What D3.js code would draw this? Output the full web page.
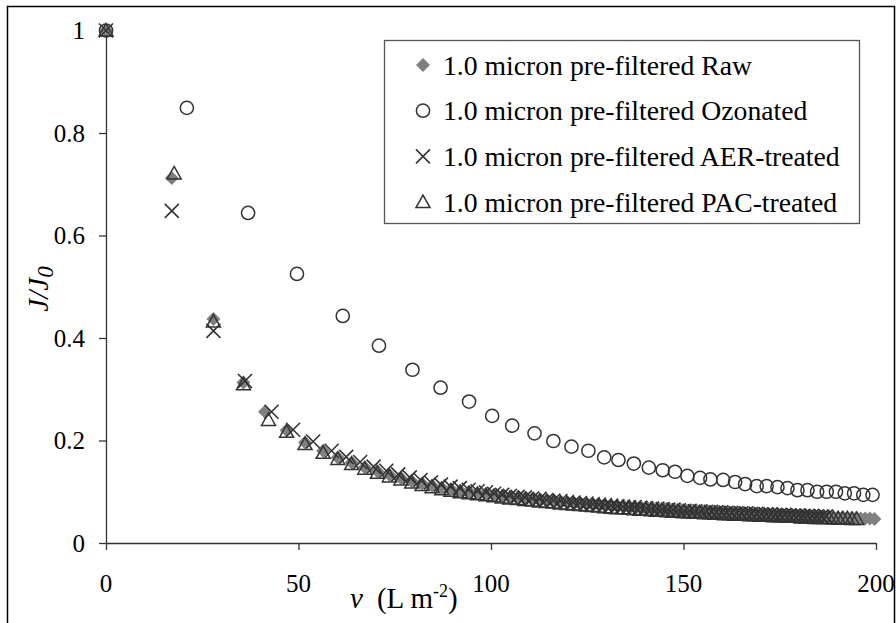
<!DOCTYPE html>
<html>
<head>
<meta charset="utf-8">
<script src="https://cdn.jsdelivr.net/npm/d3@7"></script>
<style>
  body { margin: 0; background: #fff; }
  svg text { font-family: "Liberation Serif", "Times New Roman", serif; fill: #000; }
</style>
</head>
<body>
<svg id="chart" width="896" height="623"></svg>
<script>
// series names
const seriesNames = [
  "1.0 micron pre-filtered Raw",
  "1.0 micron pre-filtered Ozonated",
  "1.0 micron pre-filtered AER-treated",
  "1.0 micron pre-filtered PAC-treated"
]

const xTicks = [0, 50, 100, 150, 200]
const yTicks = [0, 0.2, 0.4, 0.6, 0.8, 1]
const yTickLabels = ["0", "0.2", "0.4", "0.6", "0.8", "1"]

// Raw (diamonds)
const rawV = [0, 17.1, 27.9, 35.7, 41.3, 46.9, 51.7, 56.4, 60.2, 63.8, 67.2, 70.5, 73.6, 76.6, 79.4, 82.1, 84.7, 87.2,
  89.6, 92.0, 94.3, 96.5, 98.7, 100.8, 102.9, 104.9, 106.9, 108.8, 110.7, 112.6, 114.4, 116.2, 118.0, 119.8, 121.5,
  123.2, 124.9, 126.6, 128.2, 129.8, 131.4, 133.0, 134.6, 136.2, 137.7, 139.2, 140.7, 142.2, 143.7, 145.2, 146.6,
  148.0, 149.4, 150.8, 152.2, 153.6, 155.0, 156.4, 157.8, 159.1, 160.4, 161.7, 163.0, 164.3, 165.6, 166.9, 168.2,
  169.5, 170.8, 172.0, 173.2, 174.4, 175.6, 176.8, 178.0, 179.2, 180.4, 181.6, 182.8, 184.0, 185.2, 186.4, 187.6,
  188.8, 190.0, 191.2, 192.4, 193.6, 194.8, 196.0, 197.2, 198.4, 199.6]
const rawJ = [1, 0.712, 0.437, 0.313, 0.256, 0.220, 0.196, 0.180, 0.167, 0.157, 0.148, 0.140, 0.133, 0.127, 0.121, 0.116, 0.112, 0.108,
  0.105, 0.102, 0.100, 0.098, 0.096, 0.094, 0.092, 0.090, 0.089, 0.087, 0.086, 0.084, 0.083, 0.082, 0.080, 0.079, 0.078,
  0.077, 0.076, 0.075, 0.074, 0.073, 0.072, 0.071, 0.071, 0.070, 0.069, 0.068, 0.068, 0.067, 0.066, 0.066, 0.065,
  0.064, 0.064, 0.063, 0.063, 0.062, 0.062, 0.061, 0.061, 0.060, 0.060, 0.059, 0.059, 0.058, 0.058, 0.057, 0.057,
  0.056, 0.056, 0.056, 0.055, 0.055, 0.054, 0.054, 0.054, 0.053, 0.053, 0.052, 0.052, 0.052, 0.051, 0.051, 0.051,
  0.050, 0.050, 0.050, 0.049, 0.049, 0.049, 0.048, 0.048, 0.048, 0.047]

// Ozonated (circles)
const ozoV = [0, 21.0, 36.9, 49.6, 61.5, 70.9, 79.6, 86.9, 94.3, 100.3, 105.5, 111.3, 116.2, 120.9, 125.3, 129.4, 133.1,
  137.1, 141.0, 144.6, 147.8, 151.0, 154.3, 157.0, 160.3, 163.4, 166.0, 169.0, 171.6, 174.4, 177.0, 179.6, 182.2,
  184.7, 187.2, 189.6, 191.9, 194.3, 196.7, 199.1]
const ozoJ = [1, 0.849, 0.644, 0.525, 0.443, 0.385, 0.338, 0.303, 0.276, 0.248, 0.229, 0.214, 0.199, 0.188, 0.180, 0.167, 0.162,
  0.155, 0.147, 0.142, 0.139, 0.131, 0.127, 0.124, 0.123, 0.119, 0.115, 0.111, 0.111, 0.109, 0.107, 0.103, 0.103,
  0.100, 0.100, 0.100, 0.097, 0.097, 0.094, 0.094]

// AER-treated (crosses)
const aerV = [0, 17.1, 27.9, 36.1, 43.0, 48.6, 53.8, 58.6, 62.4, 66.0, 69.5, 72.8, 75.9, 78.9, 81.7, 84.4, 87.0, 89.5,
  91.9, 94.2, 96.5, 98.7, 100.8, 102.9, 104.9, 106.9, 108.8, 110.7, 112.6, 114.4, 116.2, 118.0, 119.7, 121.4, 123.1,
  124.8, 126.4, 128.0, 129.6, 131.2, 132.8, 134.3, 135.8, 137.3, 138.8, 140.3, 141.8, 143.2, 144.6, 146.0, 147.4,
  148.8, 150.2, 151.6, 153.0, 154.4, 155.8, 157.2, 158.5, 159.8, 161.1, 162.4, 163.7, 165.0, 166.3, 167.6, 168.9,
  170.2, 171.4, 172.6, 173.8, 175.0, 176.2, 177.4, 178.6, 179.8, 181.0, 182.2, 183.4, 184.6, 185.8, 187.0]
const aerJ = [1, 0.648, 0.414, 0.316, 0.256, 0.221, 0.198, 0.180, 0.168, 0.158, 0.149, 0.141, 0.134, 0.128, 0.123, 0.118, 0.114, 0.110,
  0.107, 0.104, 0.101, 0.099, 0.096, 0.094, 0.092, 0.090, 0.089, 0.087, 0.086, 0.084, 0.083, 0.082, 0.080, 0.079, 0.078,
  0.077, 0.076, 0.075, 0.074, 0.073, 0.072, 0.071, 0.070, 0.070, 0.069, 0.068, 0.067, 0.067, 0.066, 0.065, 0.065,
  0.064, 0.063, 0.063, 0.062, 0.062, 0.061, 0.061, 0.060, 0.060, 0.059, 0.059, 0.058, 0.058, 0.058, 0.057, 0.057,
  0.056, 0.056, 0.056, 0.055, 0.055, 0.055, 0.054, 0.054, 0.054, 0.053, 0.053, 0.053, 0.052, 0.052, 0.052]

// PAC-treated (triangles)
const pacV = [0, 17.7, 27.9, 35.7, 42.2, 46.9, 51.7, 56.4, 60.2, 63.8, 67.2, 70.5, 73.6, 76.6, 79.4, 82.1, 84.7, 87.2,
  89.6, 92.0, 94.3, 96.5, 98.7, 100.8, 102.9, 104.9, 106.9, 108.8, 110.7, 112.6, 114.4, 116.2, 118.0, 119.7, 121.4,
  123.1, 124.8, 126.4, 128.0, 129.6, 131.2, 132.7, 134.2, 135.7, 137.2, 138.7, 140.2, 141.6, 143.0, 144.4, 145.8,
  147.2, 148.6, 150.0, 151.4, 152.8, 154.2, 155.5, 156.8, 158.1, 159.4, 160.7, 162.0, 163.3, 164.6, 165.9, 167.2,
  168.5, 169.8, 171.0, 172.2, 173.4, 174.6, 175.8, 177.0, 178.2, 179.4, 180.6, 181.8, 183.0, 184.2, 185.4, 186.6,
  187.8, 189.0, 190.2, 191.4, 192.6, 193.8, 195.0]
const pacJ = [1, 0.721, 0.432, 0.310, 0.240, 0.217, 0.193, 0.176, 0.164, 0.154, 0.145, 0.137, 0.130, 0.124, 0.118, 0.113, 0.109, 0.105,
  0.102, 0.099, 0.097, 0.095, 0.093, 0.091, 0.089, 0.087, 0.086, 0.084, 0.083, 0.081, 0.080, 0.079, 0.077, 0.076, 0.075,
  0.074, 0.073, 0.072, 0.071, 0.070, 0.069, 0.068, 0.068, 0.067, 0.066, 0.065, 0.065, 0.064, 0.063, 0.063, 0.062,
  0.061, 0.061, 0.060, 0.060, 0.059, 0.059, 0.058, 0.058, 0.057, 0.057, 0.056, 0.056, 0.055, 0.055, 0.055, 0.054,
  0.054, 0.053, 0.053, 0.053, 0.052, 0.052, 0.052, 0.051, 0.051, 0.051, 0.050, 0.050, 0.050, 0.049, 0.049, 0.049,
  0.049, 0.048, 0.048, 0.048, 0.048, 0.047, 0.047]

const svg = d3.select('#chart')
const ink = '#333'
const serif = '"Liberation Serif", "Times New Roman", serif'

// outer frame
svg.append('rect')
  .attr('x', 7.5).attr('y', 6.5)
  .attr('width', 887).attr('height', 630)
  .attr('fill', 'none').attr('stroke', '#000').attr('stroke-width', 1.5)

const xScale = d3.scaleLinear().domain([0, 200]).range([106, 876])
const yScale = d3.scaleLinear().domain([0, 1]).range([543, 30.5])

// axes
svg.append('g')
  .attr('transform', `translate(0, ${yScale(0)})`)
  .call(d3.axisBottom(xScale).tickValues(xTicks).tickSize(7).tickSizeOuter(0).tickFormat(''))
svg.append('g')
  .attr('transform', `translate(${xScale(0)}, 0)`)
  .call(d3.axisLeft(yScale).tickValues(yTicks).tickSize(7).tickSizeOuter(0).tickFormat(''))
svg.selectAll('.domain, .tick line').attr('stroke', ink).attr('stroke-width', 1.3)

// tick labels
svg.selectAll('.xlab')
  .data(xTicks)
  .enter().append('text')
  .attr('font-family', serif)
  .attr('x', d => xScale(d))
  .attr('y', 592)
  .attr('text-anchor', 'middle')
  .style('font-size', '25px')
  .text(d => d)

svg.selectAll('.ylab')
  .data(yTicks)
  .enter().append('text')
  .attr('font-family', serif)
  .attr('x', 85)
  .attr('y', d => yScale(d) + 8.5)
  .attr('text-anchor', 'end')
  .style('font-size', '25px')
  .text((d, i) => yTickLabels[i])

// axis titles
const xt = svg.append('text')
  .attr('font-family', serif)
  .attr('x', 350).attr('y', 608)
  .style('font-size', '29px')
xt.append('tspan').style('font-style', 'italic').text('v')
xt.append('tspan').attr('dx', 14).text('(L m')
xt.append('tspan').attr('dy', -11).style('font-size', '18px').text('-2')
xt.append('tspan').attr('dy', 11).text(')')

const yt = svg.append('text')
  .attr('font-family', serif)
  .attr('transform', 'translate(48, 289) rotate(-90)')
  .attr('text-anchor', 'middle')
  .style('font-size', '29px')
  .style('font-style', 'italic')
yt.append('tspan').text('J/J')
yt.append('tspan').attr('dy', 5).style('font-size', '23px').text('0')

// marker painters
const S = 7
function drawMarker(g, kind) {
  if (kind === 0) {
    g.append('path').attr('d', `M0,${-S}L${S},0L0,${S}L${-S},0Z`)
      .attr('fill', '#808080').attr('stroke', 'none')
  } else if (kind === 1) {
    g.append('circle').attr('r', 6.6)
      .attr('fill', 'none').attr('stroke', ink).attr('stroke-width', 1.5)
  } else if (kind === 2) {
    g.append('path').attr('d', `M${-S},${-S}L${S},${S}M${-S},${S}L${S},${-S}`)
      .attr('fill', 'none').attr('stroke', ink).attr('stroke-width', 1.6)
  } else {
    g.append('path').attr('d', `M0,${-S}L${S},${S - 1.5}L${-S},${S - 1.5}Z`)
      .attr('fill', 'none').attr('stroke', ink).attr('stroke-width', 1.5)
  }
}

const allSeries = [[rawV, rawJ], [ozoV, ozoJ], [aerV, aerJ], [pacV, pacJ]]

allSeries.forEach(([vs, js], k) => {
  const pts = vs.map((v, i) => ({ v: v, j: js[i] }))
  svg.append('g')
    .selectAll('g')
    .data(pts)
    .enter().append('g')
    .attr('transform', d => `translate(${xScale(d.v)}, ${yScale(d.j)})`)
    .each(function () { drawMarker(d3.select(this), k) })
})

// legend
const legend = svg.append('g')
legend.append('rect')
  .attr('x', 384.5).attr('y', 40.5)
  .attr('width', 475).attr('height', 183)
  .attr('fill', '#fff').attr('stroke', '#555').attr('stroke-width', 1.3)

seriesNames.forEach((name, i) => {
  const cy = 65 + i * 45.7
  const m = legend.append('g').attr('transform', `translate(423, ${cy})`)
  drawMarker(m, i)
  legend.append('text')
    .attr('font-family', serif)
    .attr('x', 443)
    .attr('y', cy + 9.5)
    .style('font-size', '27.7px')
    .text(name)
})
</script>
</body>
</html>
